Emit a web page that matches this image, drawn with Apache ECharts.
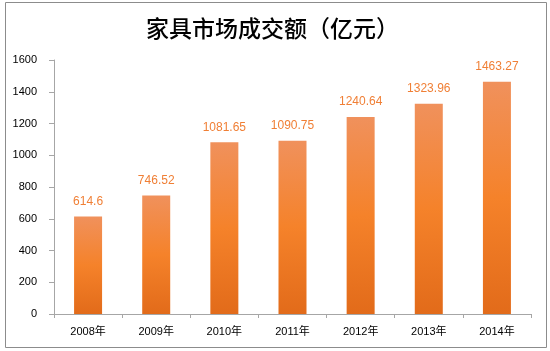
<!DOCTYPE html>
<html>
<head>
<meta charset="utf-8">
<script src="https://cdn.jsdelivr.net/npm/echarts@6/dist/echarts.min.js"></script>
<style>
  html, body { margin: 0; padding: 0; background: #fff; }
  #chart { width: 550px; height: 351px; }
</style>
</head>
<body>
<div id="chart"></div>
<script>
const years = ['2008年', '2009年', '2010年', '2011年', '2012年', '2013年', '2014年'];
const sales = [614.6, 746.52, 1081.65, 1090.75, 1240.64, 1323.96, 1463.27];
const yTicks = [0, 200, 400, 600, 800, 1000, 1200, 1400, 1600];

const chartDom = document.getElementById('chart');
const myChart = echarts.init(chartDom);

const option = {
  animation: false,
  textStyle: { fontFamily: 'Liberation Sans, "Noto Sans CJK SC", sans-serif' },
  title: {
    text: '家具市场成交额（亿元）',
    left: 141,
    top: 12,
    textStyle: {
      fontFamily: '"Noto Sans CJK SC", sans-serif',
      fontSize: 23,
      fontWeight: 500,
      color: '#000'
    }
  },
  graphic: [
    {
      type: 'rect',
      shape: { x: 5.5, y: 2.5, width: 541, height: 345 },
      style: { fill: 'none', stroke: '#8c8c8c', lineWidth: 1 },
      silent: true
    }
  ],
  grid: {
    left: 54,
    right: 19,
    top: 60,
    bottom: 37
  },
  xAxis: {
    type: 'category',
    data: years,
    axisLine: { lineStyle: { color: '#a6a6a6' } },
    axisTick: { show: true, length: 4, lineStyle: { color: '#a6a6a6' } },
    axisLabel: { color: '#000', fontSize: 11, margin: 12 }
  },
  yAxis: {
    type: 'value',
    min: yTicks[0],
    max: yTicks[yTicks.length - 1],
    interval: 200,
    axisLine: { show: true, lineStyle: { color: '#a6a6a6' } },
    axisTick: { show: true, length: 5, inside: false, lineStyle: { color: '#a6a6a6' } },
    splitLine: { show: false },
    axisLabel: { color: '#000', fontSize: 11, margin: 17, formatter: (v) => String(v) }
  },
  series: [
    {
      type: 'bar',
      data: sales,
      barWidth: 28,
      itemStyle: {
        color: new echarts.graphic.LinearGradient(0, 0, 0, 1, [
          { offset: 0, color: '#f0915c' },
          { offset: 0.5, color: '#f5822a' },
          { offset: 1, color: '#e26b1a' }
        ])
      },
      label: {
        show: true,
        position: 'top',
        distance: 9,
        color: '#f07f35',
        fontSize: 12
      }
    }
  ]
};

myChart.setOption(option);
</script>
</body>
</html>
